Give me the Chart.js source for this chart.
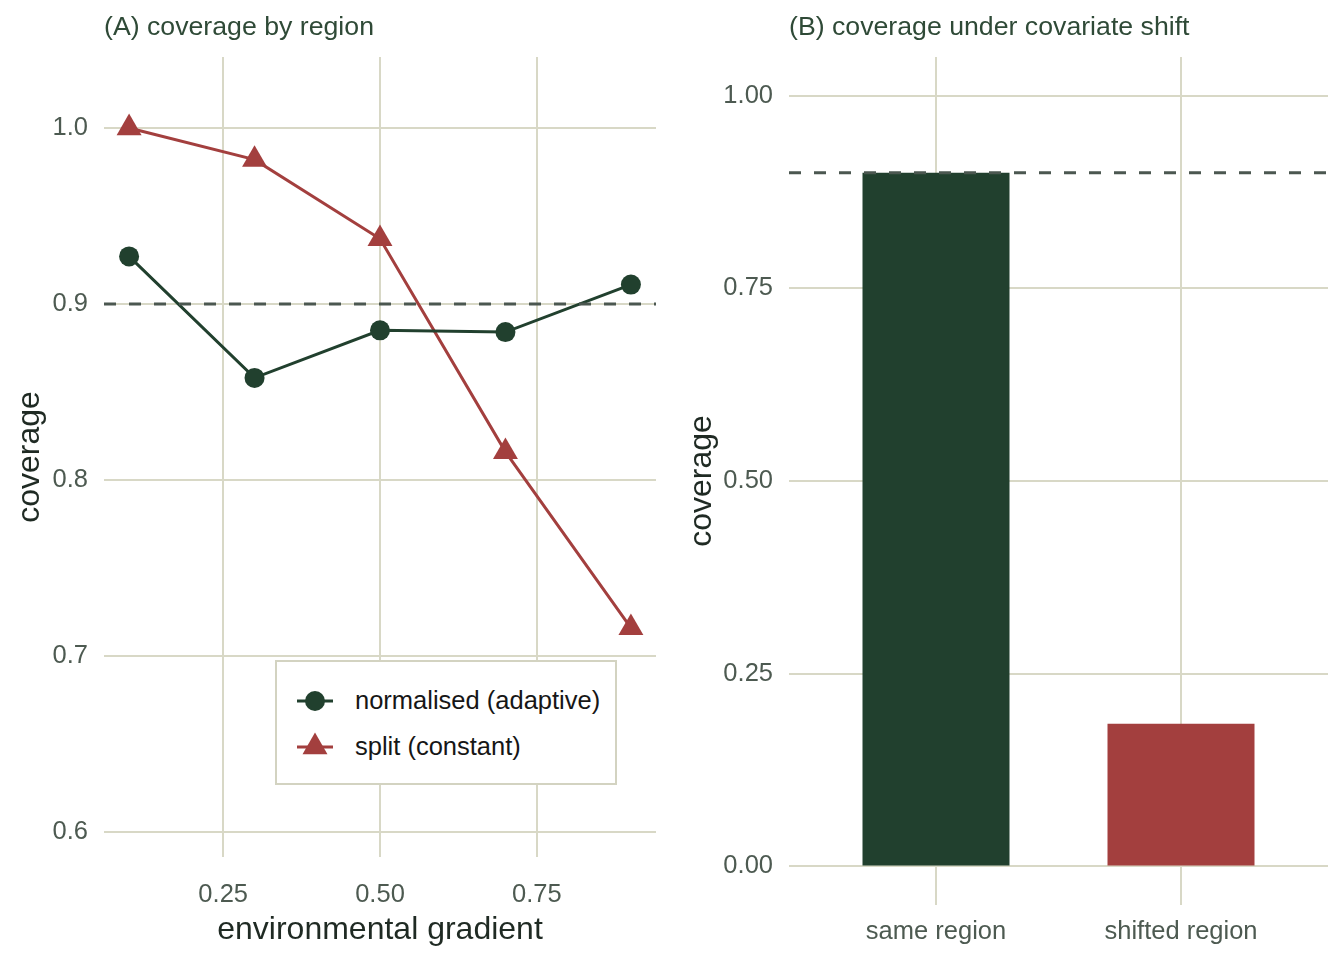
<!DOCTYPE html>
<html>
<head>
<meta charset="utf-8">
<script src="https://cdn.jsdelivr.net/npm/chart.js@4.4.1/dist/chart.umd.min.js"></script>
<style>
  body { margin: 0; background: #fff; width: 1344px; height: 960px; position: relative; overflow: hidden; font-family: 'Liberation Sans', Arial, sans-serif; }
  .panel { position: absolute; top: 0; width: 672px; height: 960px; }
  #legend { position: absolute; left: 275px; top: 660px; width: 342px; height: 125px; box-sizing: border-box; border: 2px solid #d3d3c1; background: #fff; }
  #legend svg { position: absolute; left: 0; top: 0; }
  #legend span { position: absolute; left: 78px; font-size: 25.5px; line-height: 30px; color: #161616; white-space: nowrap; }
</style>
</head>
<body>
<div class="panel" style="left:0"><canvas id="gradientChart" width="672" height="960"></canvas></div>
<div class="panel" style="left:672px"><canvas id="shiftChart" width="672" height="960"></canvas></div>
<div id="legend"></div>
<script>
// panel A: coverage along the environmental gradient
const gradientX = [0.1, 0.3, 0.5, 0.7, 0.9];
const normalisedCoverage = [0.927, 0.858, 0.885, 0.884, 0.911];
const splitCoverage = [1.0, 0.982, 0.937, 0.816, 0.716];
const seriesNames = ['normalised (adaptive)', 'split (constant)'];
const gradientTicks = [0.25, 0.5, 0.75];
const coverageTicksA = [0.6, 0.7, 0.8, 0.9, 1.0];

// panel B: coverage under covariate shift
const shiftCategories = ['same region', 'shifted region'];
const shiftCoverage = [0.9, 0.185];
const coverageTicksB = [0, 0.25, 0.5, 0.75, 1.0];

const targetCoverage = 0.9;
const panelTitles = ['(A) coverage by region', '(B) coverage under covariate shift'];

const GREEN = '#21402e', RED = '#a33f3e';
const GRID = '#d8d8c6', TICK = '#4d5a51', INK = '#1f2a23', TITLE = '#2f4a37';
const FONT = "'Liberation Sans', Arial, sans-serif";

// dashed target line + left-aligned panel title
const panelDecor = {
    id: 'panelDecor',
    afterDatasetsDraw(chart) {
        const { ctx, chartArea: a } = chart;
        const py = chart.scales.y.getPixelForValue(targetCoverage);
        ctx.save();
        ctx.strokeStyle = '#4b5750';
        ctx.lineWidth = 3;
        ctx.setLineDash([12, 13]);
        ctx.beginPath();
        ctx.moveTo(a.left, py);
        ctx.lineTo(a.right, py);
        ctx.stroke();
        ctx.restore();
    },
    afterDraw(chart, args, opts) {
        const { ctx, chartArea: a } = chart;
        ctx.save();
        ctx.font = '26.7px ' + FONT;
        ctx.fillStyle = TITLE;
        ctx.textBaseline = 'alphabetic';
        ctx.fillText(opts.text, a.left, 35);
        ctx.restore();
    }
};

const tickFont = { family: FONT, size: 25.5 };
const titleFont = { family: FONT, size: 32 };

function yScale(min, max, ticks, digits, width) {
    return {
        min: min, max: max,
        afterBuildTicks: s => { s.ticks = ticks.map(v => ({ value: v })); },
        afterFit: s => { s.width = width; },
        grid: { color: GRID, lineWidth: 2, drawTicks: false },
        border: { display: false },
        ticks: { font: tickFont, color: TICK, padding: 16, callback: v => Number(v).toFixed(digits) },
        title: { display: true, text: 'coverage', font: titleFont, color: INK, padding: { top: 11, bottom: 0 } }
    };
}

new Chart(document.getElementById('gradientChart'), {
    type: 'line',
    data: {
        datasets: [
            {
                label: seriesNames[0],
                data: gradientX.map((x, i) => ({ x: x, y: normalisedCoverage[i] })),
                borderColor: GREEN, backgroundColor: GREEN, borderWidth: 3,
                pointStyle: 'circle', pointRadius: 10, pointBorderWidth: 0,
                pointBackgroundColor: GREEN, tension: 0
            },
            {
                label: seriesNames[1],
                data: gradientX.map((x, i) => ({ x: x, y: splitCoverage[i] })),
                borderColor: RED, backgroundColor: RED, borderWidth: 3,
                pointStyle: 'triangle', pointRadius: 14.4, pointBorderWidth: 0,
                pointBackgroundColor: RED, tension: 0
            }
        ]
    },
    options: {
        responsive: false,
        animation: false,
        layout: { padding: { top: 57, right: 16, bottom: 0, left: 0 } },
        plugins: { legend: { display: false }, tooltip: { enabled: false }, panelDecor: { text: panelTitles[0] } },
        scales: {
            x: {
                type: 'linear', min: 0.06, max: 0.94,
                afterBuildTicks: s => { s.ticks = gradientTicks.map(v => ({ value: v })); },
                afterFit: s => { s.height = 103; },
                grid: { color: GRID, lineWidth: 2, drawTicks: false },
                border: { display: false },
                ticks: { font: tickFont, color: TICK, padding: 23, maxRotation: 0, callback: v => Number(v).toFixed(2) },
                title: { display: true, text: 'environmental gradient', font: titleFont, color: INK, padding: { top: 0, bottom: 11 } }
            },
            y: yScale(0.5858, 1.0403, coverageTicksA, 1, 104)
        }
    },
    plugins: [panelDecor]
});

new Chart(document.getElementById('shiftChart'), {
    type: 'bar',
    data: {
        datasets: [{
            data: shiftCoverage.map((v, i) => ({ x: i + 1, y: v })),
            backgroundColor: [GREEN, RED],
            borderWidth: 0,
            barPercentage: 0.6,
            categoryPercentage: 1
        }]
    },
    options: {
        responsive: false,
        animation: false,
        layout: { padding: { top: 57, right: 16, bottom: 0, left: 0 } },
        plugins: { legend: { display: false }, tooltip: { enabled: false }, panelDecor: { text: panelTitles[1] } },
        scales: {
            x: {
                type: 'linear', min: 0.4, max: 2.6, offset: false,
                afterBuildTicks: s => { s.ticks = shiftCategories.map((c, i) => ({ value: i + 1 })); },
                afterFit: s => { s.height = 55; },
                grid: { color: GRID, lineWidth: 2, drawTicks: false, offset: false },
                border: { display: false },
                ticks: { font: tickFont, color: TICK, padding: 12, maxRotation: 0, callback: v => shiftCategories[v - 1] }
            },
            y: yScale(-0.05, 1.05, coverageTicksB, 2, 117)
        }
    },
    plugins: [panelDecor]
});

// legend box drawn over panel A
const legendColors = [GREEN, RED];
const legend = document.getElementById('legend');
let svg = '<svg width="60" height="121">';
seriesNames.forEach((name, i) => {
    const cy = 39 + i * 46;
    svg += `<line x1="20" y1="${cy}" x2="56" y2="${cy}" stroke="${legendColors[i]}" stroke-width="3"/>`;
    if (i === 0) {
        svg += `<circle cx="38" cy="${cy}" r="10" fill="${legendColors[i]}"/>`;
    } else {
        svg += `<polygon points="38,${cy - 14.4} ${38 - 12.47},${cy + 7.2} ${38 + 12.47},${cy + 7.2}" fill="${legendColors[i]}"/>`;
    }
});
svg += '</svg>';
legend.innerHTML = svg + seriesNames.map((name, i) => `<span style="top:${23 + i * 46}px">${name}</span>`).join('');
</script>
</body>
</html>
